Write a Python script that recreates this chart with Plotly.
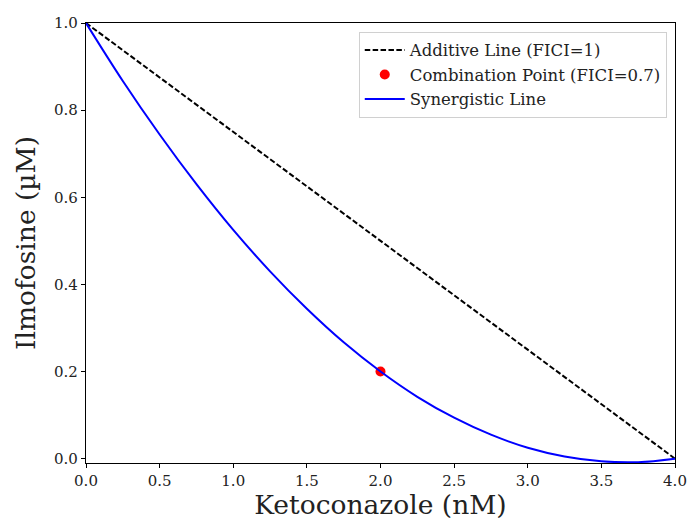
import plotly.graph_objects as go

# Data
additive_x = [0.0, 4.0]
additive_y = [1.0, 0.0]

combo_x = [2.0]
combo_y = [0.2]

syn_x = [0.0, 0.25, 0.5, 0.75, 1.0, 1.25, 1.5, 1.75, 2.0, 2.25, 2.5, 2.75, 3.0, 3.25, 3.5, 3.75, 4.0]
syn_y = [1.0, 0.867, 0.744, 0.630, 0.525, 0.430, 0.344, 0.267, 0.2, 0.142, 0.094, 0.055, 0.025, 0.005, -0.006, -0.008, 0.0]

x_ticks = [0.0, 0.5, 1.0, 1.5, 2.0, 2.5, 3.0, 3.5, 4.0]
y_ticks = [0.0, 0.2, 0.4, 0.6, 0.8, 1.0]

FONT = "DejaVu Serif"

fig = go.Figure()
fig.add_trace(go.Scatter(x=additive_x, y=additive_y, mode="lines",
                         name="Additive Line (FICI=1)",
                         line=dict(color="black", width=2, dash="5.5px,2.4px")))
fig.add_trace(go.Scatter(x=combo_x, y=combo_y, mode="markers",
                         name="Combination Point (FICI=0.7)",
                         marker=dict(color="red", size=10)))
fig.add_trace(go.Scatter(x=syn_x, y=syn_y, mode="lines",
                         name="Synergistic Line",
                         line=dict(color="blue", width=2, shape="spline")))

axis_common = dict(showgrid=False, zeroline=False, showline=True, linecolor="black",
                   linewidth=1.2, mirror=True, ticks="outside", ticklen=4,
                   tickcolor="black", tickwidth=1, automargin=False,
                   tickfont=dict(family=FONT, size=15, color="#222"))

fig.update_xaxes(range=[0, 4], tickvals=x_ticks,
                 ticktext=[f"{v:.1f}" for v in x_ticks],
                 title=dict(text="Ketoconazole (nM)", font=dict(family=FONT, size=26.5, color="#222"), standoff=1),
                 **axis_common)
fig.update_yaxes(range=[-0.01, 1.0], tickvals=y_ticks,
                 ticktext=[f"{v:.1f}" for v in y_ticks],
                 title=dict(text="Ilmofosine (µM)", font=dict(family=FONT, size=26.5, color="#222"), standoff=10),
                 **axis_common)

fig.update_layout(
    width=689, height=520,
    margin=dict(l=86, r=14, t=23, b=57, autoexpand=False),
    plot_bgcolor="white", paper_bgcolor="white",
    font=dict(family=FONT),
    legend=dict(x=0.986, y=0.98, xanchor="right", yanchor="top",
                bgcolor="rgba(255,255,255,0.8)", bordercolor="#d0d0d0", borderwidth=1,
                font=dict(family=FONT, size=16.5, color="#222"),
                itemwidth=40, tracegroupgap=0),
)

fig.write_html("out.html", config={"displayModeBar": False},
               post_script="document.body.style.margin='0';document.body.style.padding='0';document.body.style.overflow='hidden';")
